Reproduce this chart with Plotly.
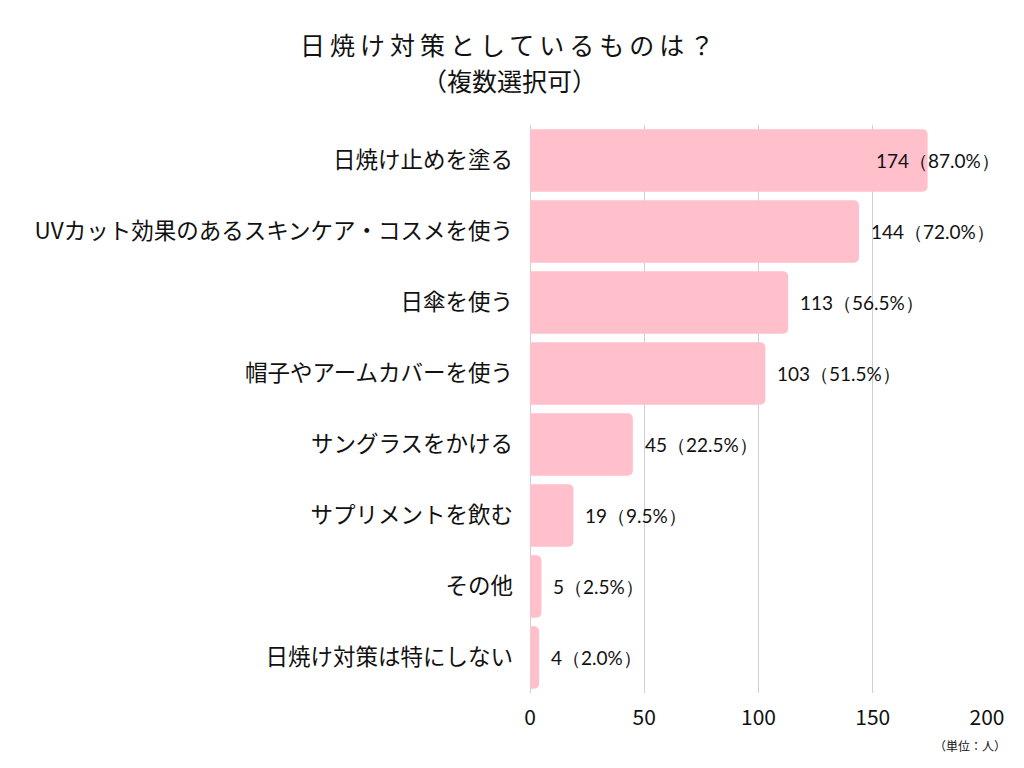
import plotly.graph_objects as go

categories = [
    "日焼け止めを塗る",
    "UVカット効果のあるスキンケア・コスメを使う",
    "日傘を使う",
    "帽子やアームカバーを使う",
    "サングラスをかける",
    "サプリメントを飲む",
    "その他",
    "日焼け対策は特にしない",
]
counts = [174, 144, 113, 103, 45, 19, 5, 4]
percents = [87.0, 72.0, 56.5, 51.5, 22.5, 9.5, 2.5, 2.0]
x_ticks = [0, 50, 100, 150, 200]

title_line1 = "日焼け対策としているものは？"
title_line2 = "（複数選択可）"
unit_note = "（単位：人）"

BAR_COLOR = "#FFBFCB"
JP_FONT = "Noto Sans CJK JP"
NUM_FONT = "Lato"

L, R, T, B = 522, 45, 117, 83
W, H = 1024, 768
plot_w = W - L - R
x_max = 200

fig = go.Figure(
    go.Bar(
        x=counts,
        y=categories,
        orientation="h",
        marker=dict(color=BAR_COLOR, line=dict(width=0)),
        width=0.88,
        hoverinfo="skip",
    )
)

annotations = []
label_w = 120
for c, p, cat in zip(counts, percents, categories):
    text = f"{c}（{p:.1f}%）"
    end_px = L + c / x_max * plot_w + 12 + label_w
    if end_px > W - 30:
        annotations.append(dict(x=1, xref="paper", y=cat, yref="y", text=text,
                                xanchor="right", xshift=15, showarrow=False,
                                font=dict(family=NUM_FONT, size=19, color="#111111")))
    else:
        annotations.append(dict(x=c, xref="x", y=cat, yref="y", text=text,
                                xanchor="left", xshift=10, showarrow=False,
                                font=dict(family=NUM_FONT, size=19, color="#111111")))

title_x = (501 - L) / plot_w
annotations += [
    dict(x=title_x, xref="paper", y=1, yref="paper", yshift=81, yanchor="middle",
         xanchor="center",
         text=f'<span style="letter-spacing:5px">{title_line1}</span>',
         showarrow=False, font=dict(family=JP_FONT, size=25, color="#111111")),
    dict(x=title_x, xref="paper", y=1, yref="paper", yshift=45, yanchor="middle",
         xanchor="center", text=title_line2, showarrow=False,
         font=dict(family=JP_FONT, size=25, color="#111111")),
    dict(x=1, xref="paper", y=0, yref="paper", yshift=-52, xshift=21,
         yanchor="middle", xanchor="right", text=unit_note, showarrow=False,
         font=dict(family=JP_FONT, size=12, color="#111111")),
]

fig.update_layout(
    width=W, height=H,
    margin=dict(l=L, r=R, t=T, b=B, pad=0),
    paper_bgcolor="white", plot_bgcolor="white",
    showlegend=False,
    barcornerradius=5,
    annotations=annotations,
    xaxis=dict(range=[0, x_max], tickvals=x_ticks, showgrid=True,
               gridcolor="#D0D0D0", gridwidth=1, zeroline=True,
               zerolinecolor="#D0D0D0", zerolinewidth=1, showline=False,
               ticks="", ticklabelstandoff=10,
               tickfont=dict(family=JP_FONT, size=21, color="#111111"),
               fixedrange=True),
    yaxis=dict(autorange="reversed", showgrid=False, zeroline=False,
               showline=False, ticks="", ticklabelstandoff=16,
               tickfont=dict(family=JP_FONT, size=22.5, color="#111111"),
               fixedrange=True),
)

fig.write_html("out.html")
